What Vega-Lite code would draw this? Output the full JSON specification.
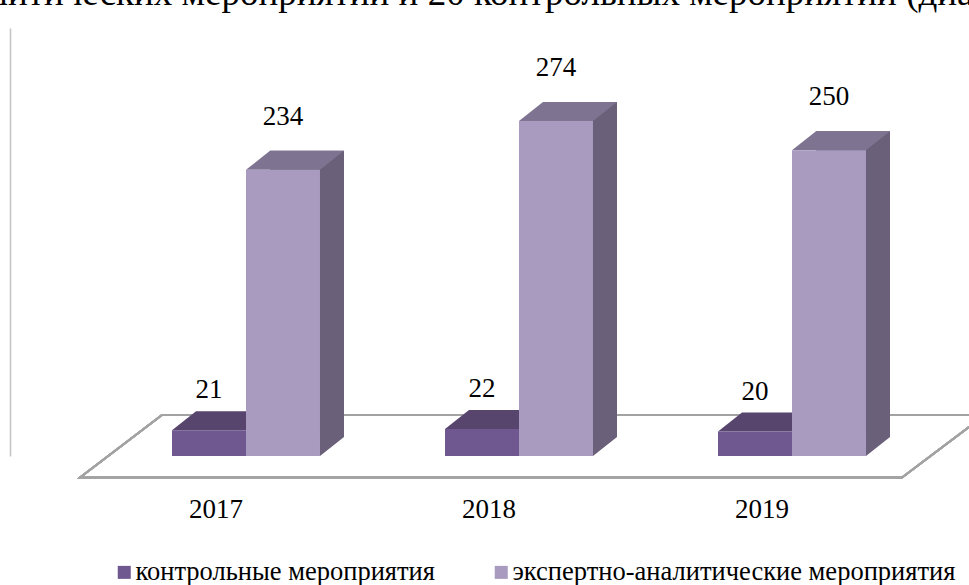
{
  "$schema": "https://vega.github.io/schema/vega-lite/v6.json",
  "autosize": {"type": "none"},
  "padding": {"left": 109.5, "top": 28, "right": 40.5, "bottom": 129},
  "width": 819,
  "height": 428,
  "background": "white",
  "config": {
    "view": {"stroke": null},
    "font": "Liberation Serif, 'Times New Roman', serif",
    "axisY": {"domain": true, "domainColor": "#c4c4c4", "domainWidth": 1.5, "ticks": false, "labels": false, "grid": false, "offset": 99.5, "titleOpacity": 0}
  },
  "title": {
    "text": "аналитических мероприятий и 20 контрольных мероприятий (диаграмма 1).",
    "frame": "group",
    "anchor": "start",
    "baseline": "alphabetic",
    "offset": 0,
    "dy": 14,
    "dx": -173,
    "font": "Liberation Serif, 'Times New Roman', serif",
    "fontSize": 37,
    "fontWeight": "normal",
    "color": "black"
  },
  "data": {
    "values": [
      {"year": "2017", "series": "контрольные мероприятия", "value": 21},
      {"year": "2017", "series": "экспертно-аналитические мероприятия", "value": 234},
      {"year": "2018", "series": "контрольные мероприятия", "value": 22},
      {"year": "2018", "series": "экспертно-аналитические мероприятия", "value": 274},
      {"year": "2019", "series": "контрольные мероприятия", "value": 20},
      {"year": "2019", "series": "экспертно-аналитические мероприятия", "value": 250}
    ]
  },
  "encoding": {
    "x": {
      "field": "year",
      "type": "nominal",
      "scale": {"type": "band", "paddingInner": 0, "paddingOuter": 0},
      "axis": {
        "title": null,
        "domain": false,
        "ticks": false,
        "labelAngle": 0,
        "labelFont": "Liberation Serif, 'Times New Roman', serif",
        "labelFontSize": 27,
        "labelColor": "black",
        "labelPadding": 40,
        "labelOffset": -30
      }
    }
  },
  "layer": [
    {
      "mark": {"type": "point", "shape": "M-439,21.5L383,21.5L466,-41L-357,-41Z", "size": 4, "filled": false, "stroke": "#a3a3a3", "strokeWidth": 2, "opacity": 1},
      "encoding": {
        "x": {"datum": "2018", "type": "nominal"},
        "y": {"datum": 0, "type": "quantitative", "title": null}
      }
    },
    {
      "transform": [{"filter": "datum.series === 'экспертно-аналитические мероприятия'"}],
      "mark": {"type": "bar", "width": 74, "xOffset": 61, "yOffset": -19, "y2Offset": -19, "color": "#6a6079"},
      "encoding": {
        "y": {
          "field": "value",
          "type": "quantitative",
          "title": null,
          "scale": {"domain": [0, 350], "nice": false}
        }
      }
    },
    {
      "transform": [{"filter": "datum.series === 'экспертно-аналитические мероприятия'"}],
      "mark": {"type": "point", "shape": "M0,-19L0,0L24,-19Z", "size": 4, "filled": true, "opacity": 1, "strokeWidth": 0, "xOffset": 74, "color": "#6a6079"},
      "encoding": {
        "y": {"datum": 0, "type": "quantitative", "title": null}
      }
    },
    {
      "mark": {"type": "point", "shape": "M-37,0L37,0L61,-19L-13,-19Z", "size": 4, "filled": true, "opacity": 1, "strokeWidth": 0},
      "encoding": {
        "xOffset": {"field": "series", "type": "nominal", "sort": ["контрольные мероприятия", "экспертно-аналитические мероприятия"], "scale": {"paddingInner": 0, "paddingOuter": 0.845}},
        "y": {"field": "value", "type": "quantitative", "title": null},
        "fill": {"condition": {"test": "datum.series === 'контрольные мероприятия'", "value": "#57456e"}, "value": "#7e7391"}
      }
    },
    {
      "mark": {"type": "bar"},
      "encoding": {
        "xOffset": {"field": "series", "type": "nominal", "sort": ["контрольные мероприятия", "экспертно-аналитические мероприятия"]},
        "y": {"field": "value", "type": "quantitative", "title": null},
        "color": {
          "field": "series",
          "type": "nominal",
          "sort": ["контрольные мероприятия", "экспертно-аналитические мероприятия"],
          "scale": {"domain": ["контрольные мероприятия", "экспертно-аналитические мероприятия"], "range": ["#6f578f", "#a99bc0"]},
          "legend": {
            "orient": "none",
            "legendX": 1.5,
            "legendY": 531,
            "direction": "horizontal",
            "title": null,
            "symbolType": "square",
            "symbolSize": 169,
            "symbolStrokeWidth": 0,
            "labelFont": "Liberation Serif, 'Times New Roman', serif",
            "labelFontSize": 26.5,
            "labelColor": "black",
            "labelOffset": -2,
            "labelLimit": 1000,
            "columnPadding": 53,
            "padding": 0
          }
        }
      }
    },
    {
      "transform": [{"filter": "datum.series === 'контрольные мероприятия'"}],
      "mark": {"type": "text", "font": "Liberation Serif, 'Times New Roman', serif", "fontSize": 27, "baseline": "middle", "dy": -40, "color": "black"},
      "encoding": {
        "xOffset": {"field": "series", "type": "nominal", "sort": ["контрольные мероприятия", "экспертно-аналитические мероприятия"]},
        "y": {"field": "value", "type": "quantitative", "title": null},
        "text": {"field": "value", "type": "quantitative"}
      }
    },
    {
      "transform": [{"filter": "datum.series === 'экспертно-аналитические мероприятия'"}],
      "mark": {"type": "text", "font": "Liberation Serif, 'Times New Roman', serif", "fontSize": 27, "baseline": "middle", "dy": -53, "color": "black"},
      "encoding": {
        "xOffset": {"field": "series", "type": "nominal", "sort": ["контрольные мероприятия", "экспертно-аналитические мероприятия"]},
        "y": {"field": "value", "type": "quantitative", "title": null},
        "text": {"field": "value", "type": "quantitative"}
      }
    }
  ]
}
